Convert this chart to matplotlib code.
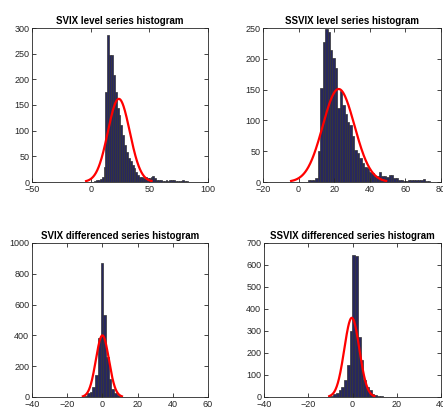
import matplotlib
matplotlib.use("Agg")
import matplotlib.pyplot as plt
import numpy as np

plt.rcParams['font.family'] = ['Liberation Sans', 'DejaVu Sans']

# bin counts (50 bins each, like hist(x, 50))
svix_counts = [2, 3, 4, 5, 10, 30, 176, 286, 248, 248,
               208, 175, 144, 130, 111, 92, 72, 59, 46, 40,
               33, 27, 20, 14, 10, 10, 8, 9, 8, 7,
               10, 12, 8, 4, 3, 3, 2, 2, 3, 2,
               3, 4, 3, 2, 2, 1, 2, 3, 1, 1]
svix_range = (3.0, 83.0)

ssvix_counts = [4, 3, 3, 6, 50, 153, 228, 248, 244, 214,
                201, 185, 120, 148, 125, 110, 98, 93, 74, 52,
                47, 39, 31, 25, 23, 17, 15, 9, 9, 16,
                9, 9, 8, 12, 12, 6, 6, 4, 3, 1,
                2, 4, 3, 3, 3, 3, 4, 5, 2, 1]
ssvix_range = (5.3, 73.8)

dsvix_counts = [1, 0, 0, 0, 0, 0, 0, 0, 1, 0,
                1, 0, 1, 1, 2, 8, 24, 35, 67, 143,
                380, 870, 532, 260, 120, 50, 24, 10, 5, 3,
                2, 2, 1, 1, 1, 0, 0, 1, 0, 0,
                0, 1, 0, 0, 1, 0, 0, 0, 0, 1]
dsvix_range = (-33.2, 43.3)

dssvix_counts = [1, 0, 0, 1, 0, 0, 1, 0, 1, 1,
                 0, 1, 1, 0, 1, 2, 1, 3, 6, 14,
                 18, 32, 47, 77, 145, 300, 645, 641, 274, 168,
                 77, 47, 33, 15, 8, 4, 3, 2, 1, 2,
                 1, 1, 1, 0, 1, 0, 0, 0, 1, 1]
dssvix_range = (-32.3, 29.7)

# normal fit: mean, std, peak height
svix_fit = (24.0, 9.3, 162)
ssvix_fit = (22.5, 8.9, 151)
dsvix_fit = (0.0, 3.7, 400)
dssvix_fit = (-0.3, 3.4, 360)

titles = ['SVIX level series histogram', 'SSVIX level series histogram',
          'SVIX differenced series histogram', 'SSVIX differenced series histogram']
xlims = [(-50, 100), (-20, 80), (-40, 60), (-40, 40)]
xticks = [[-50, 0, 50, 100], [-20, 0, 20, 40, 60, 80],
          [-40, -20, 0, 20, 40, 60], [-40, -20, 0, 20, 40]]
ylims = [(0, 300), (0, 250), (0, 1000), (0, 700)]
ysteps = [50, 50, 200, 100]

panels = [(svix_counts, svix_range, svix_fit),
          (ssvix_counts, ssvix_range, ssvix_fit),
          (dsvix_counts, dsvix_range, dsvix_fit),
          (dssvix_counts, dssvix_range, dssvix_fit)]

W, H = 443, 408
boxes = [(32, 28, 176, 154), (263, 28, 178, 154),
         (32, 243, 176, 154), (264, 243, 177, 154)]

fig = plt.figure(figsize=(W / 100, H / 100), dpi=100)
grey = '#262626'

for k, (counts, rng, fit) in enumerate(panels):
    x0, y0, w, h = boxes[k]
    ax = fig.add_axes([x0 / W, 1 - (y0 + h) / H, w / W, h / H])
    edges = np.linspace(rng[0], rng[1], len(counts) + 1)
    ax.bar(edges[:-1], counts, width=np.diff(edges), align='edge',
           color='#27275e', edgecolor='#333333', linewidth=0.5)
    mu, sd, pk = fit
    xs = np.linspace(mu - 3 * sd, mu + 3 * sd, 200)
    ax.plot(xs, pk * np.exp(-0.5 * ((xs - mu) / sd) ** 2), color='red', lw=1.6)
    ax.set_xlim(xlims[k])
    ax.set_ylim(ylims[k])
    ax.set_xticks(xticks[k])
    ax.set_yticks(np.arange(ylims[k][0], ylims[k][1] + 1, ysteps[k]))
    ax.tick_params(direction='in', top=True, right=True, labelsize=6.5,
                   colors=grey, length=3, width=0.6, pad=2)
    for s in ax.spines.values():
        s.set_color(grey)
        s.set_linewidth(0.6)
    ax.set_title(titles[k], fontsize=7, fontweight='bold', pad=3)

plt.savefig('out.png', dpi=100)
